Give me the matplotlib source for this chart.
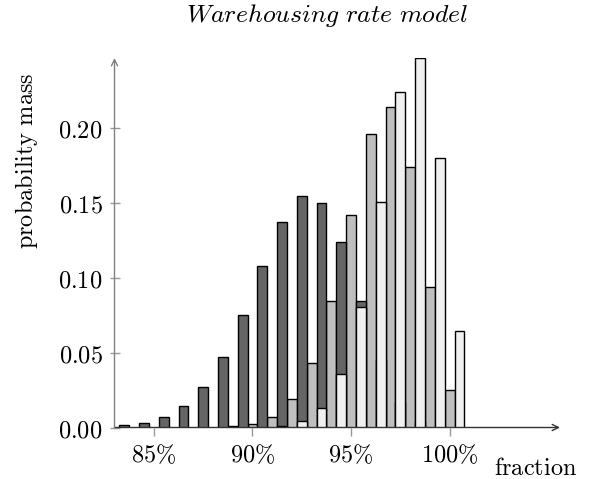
import matplotlib
matplotlib.use("Agg")
import matplotlib.pyplot as plt
from matplotlib.ticker import FuncFormatter, FixedLocator

plt.rcParams['mathtext.fontset'] = 'cm'

# data (fraction in %, probability mass)
dark_x = [83.5, 84.5, 85.5, 86.5, 87.5, 88.5, 89.5, 90.5, 91.5, 92.5, 93.5, 94.5, 95.5, 96.5, 97.5, 98.5, 99.5]
dark_y = [0.0016, 0.0033, 0.0069, 0.0143, 0.0269, 0.0471, 0.0749, 0.1076, 0.1373, 0.1542, 0.1500, 0.1240, 0.0845, 0.045, 0.017, 0.004, 0.001]

mid_x = [89, 90, 91, 92, 93, 94, 95, 96, 97, 98, 99, 100]
mid_y = [0.0008, 0.0026, 0.0072, 0.0188, 0.0429, 0.0845, 0.1416, 0.1956, 0.2140, 0.1740, 0.0936, 0.0251]

light_x = [91.5, 92.5, 93.5, 94.5, 95.5, 96.5, 97.5, 98.5, 99.5, 100.5]
light_y = [0.0012, 0.0045, 0.0131, 0.0356, 0.0803, 0.1505, 0.2236, 0.2463, 0.1796, 0.0647]

xticks = [85, 90, 95, 100]
yticks = [0.00, 0.05, 0.10, 0.15, 0.20]

W, H = 598, 479
fig = plt.figure(figsize=(W / 100, H / 100), dpi=100)
L, R, B, T = 114.5, 560, 427.5, 58
ax = fig.add_axes([L / W, 1 - B / H, (R - L) / W, (B - T) / H])

bw = 0.5
ax.bar(mid_x, mid_y, width=bw, color='#bfbfbf', edgecolor='black', linewidth=1.0, zorder=2)
ax.bar(dark_x, dark_y, width=bw, color='#656565', edgecolor='black', linewidth=1.0, zorder=3)
ax.bar(light_x, light_y, width=bw, color='#f0f0f0', edgecolor='black', linewidth=1.0, zorder=4)

ax.set_xlim(83.0, 105.6)
ax.set_ylim(0, 0.2465)

for s in ['top', 'right', 'left', 'bottom']:
    ax.spines[s].set_visible(False)

# axis lines with arrows
ax.annotate('', xy=(1, 0), xytext=(0, 0), xycoords='axes fraction',
            arrowprops=dict(arrowstyle='->,head_length=0.45,head_width=0.22',
                            color='#333333', lw=1.0, shrinkA=0, shrinkB=0), zorder=5)
ax.annotate('', xy=(0, 1.0), xytext=(0, 0), xycoords='axes fraction',
            arrowprops=dict(arrowstyle='->,head_length=0.45,head_width=0.22',
                            color='#808080', lw=1.0, shrinkA=0, shrinkB=0), zorder=5)

ax.xaxis.set_major_locator(FixedLocator(xticks))
ax.yaxis.set_major_locator(FixedLocator(yticks))
ax.xaxis.set_major_formatter(FuncFormatter(lambda v, p: r'$\mathrm{%d\%%}$' % round(v)))
ax.yaxis.set_major_formatter(FuncFormatter(lambda v, p: r'$\mathrm{%.2f}$' % v))
ax.tick_params(axis='x', direction='out', length=6, width=1.0, color='#999999',
               labelsize=17.5, pad=5)
ax.tick_params(axis='y', direction='inout', length=7, width=1.0, color='#999999',
               labelsize=17.5, pad=5)

fig.text(327.5 / W, 1 - 21.7 / H, r'$\mathit{Warehousing\ rate\ model}$',
         ha='center', va='baseline', fontsize=18.5)
fig.text(27 / W, 1 - 161 / H, r'$\mathrm{probability\ mass}$', rotation=90,
         ha='center', va='center', fontsize=17.5)
fig.text(536 / W, 1 - 475 / H, r'$\mathrm{fraction}$', ha='center', va='baseline',
         fontsize=17.5)

fig.savefig('out.png', dpi=100)
